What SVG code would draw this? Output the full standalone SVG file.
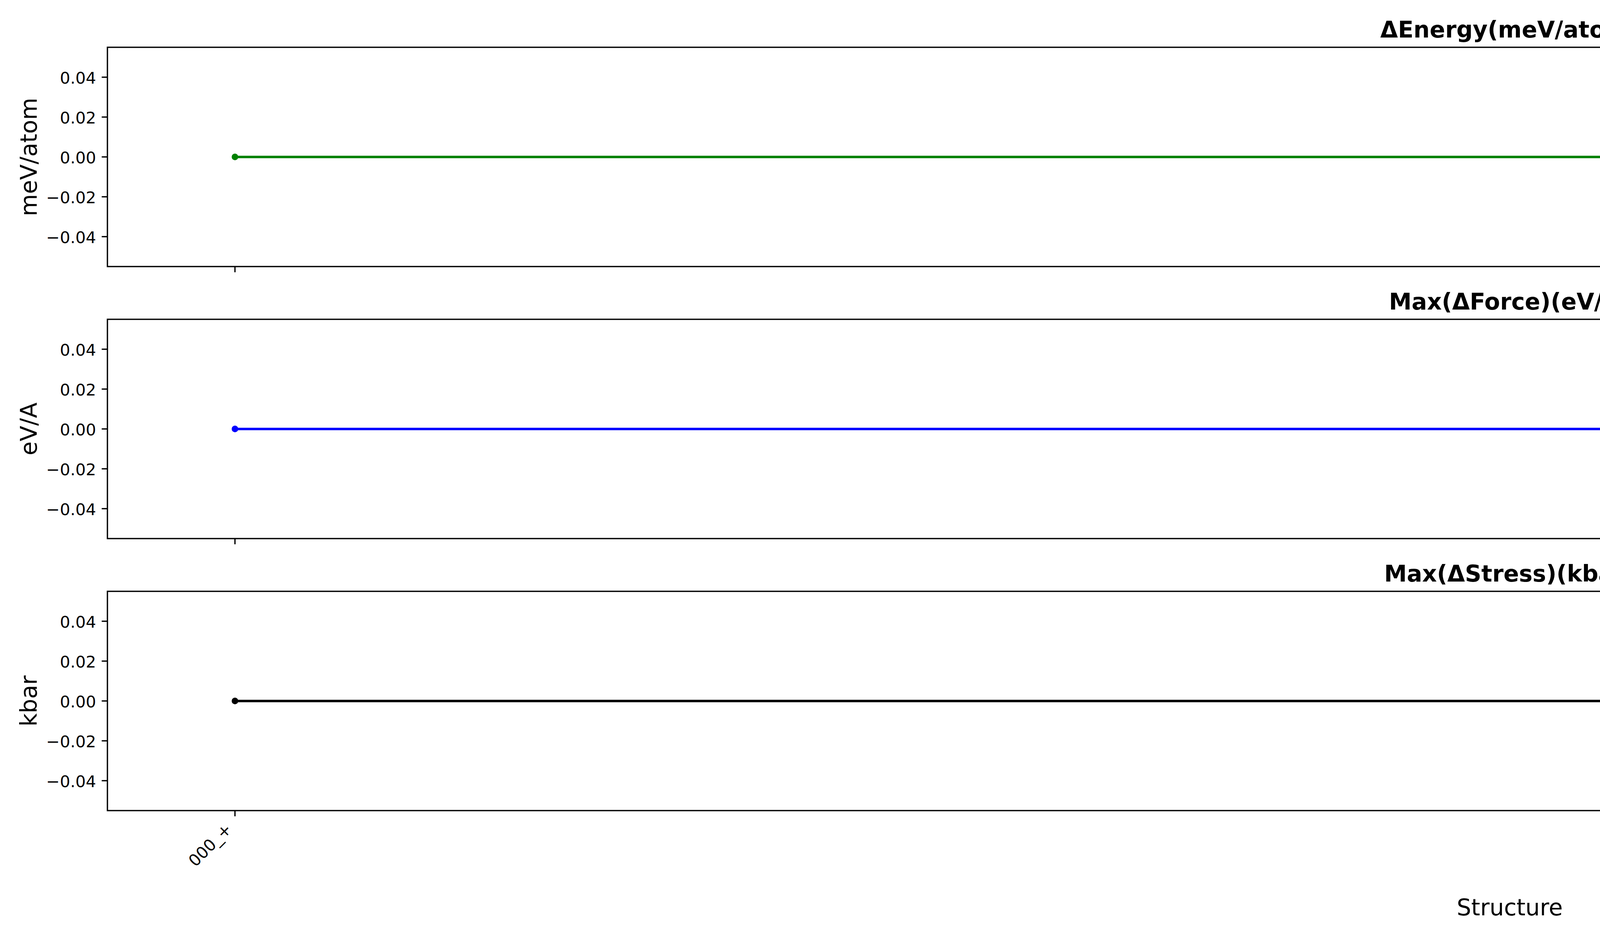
<svg xmlns="http://www.w3.org/2000/svg" width="7500" height="2400" viewBox="0 0 7500 2400">
<style>
text{font-family:"DejaVu Sans","Liberation Sans",sans-serif;fill:#000}
.tick{font-size:41.67px;text-anchor:end}
.title{font-size:58.33px;font-weight:bold;text-anchor:middle}
.lab{font-size:58.33px;text-anchor:middle}
.spine{fill:none;stroke:#000;stroke-width:3.33;stroke-linejoin:miter}
.tk{stroke:#000;stroke-width:3.33}
.ln{stroke-width:6.25;fill:none;stroke-linecap:square}
</style>
<rect x="0" y="0" width="7500" height="2400" fill="#fff"/>

<g id="axes-energy">
<text class="title" x="3865" y="96">ΔEnergy(meV/atom)</text>
<g class="tk">
<line x1="260.4" y1="197.5" x2="275" y2="197.5"/>
<line x1="260.4" y1="299.5" x2="275" y2="299.5"/>
<line x1="260.4" y1="401.5" x2="275" y2="401.5"/>
<line x1="260.4" y1="503.5" x2="275" y2="503.5"/>
<line x1="260.4" y1="605.5" x2="275" y2="605.5"/>
<line x1="601.5" y1="682" x2="601.5" y2="696.6"/>
<line x1="7128.5" y1="682" x2="7128.5" y2="696.6"/>
</g>
<text class="tick" x="246" y="213.5">0.04</text>
<text class="tick" x="246" y="315.5">0.02</text>
<text class="tick" x="246" y="417.5">0.00</text>
<text class="tick" x="246" y="519.5">−0.02</text>
<text class="tick" x="246" y="621.5">−0.04</text>
<text class="lab" transform="translate(94,401.5) rotate(-90)">meV/atom</text>
<polyline class="ln" stroke="#008000" points="601.5,401.5 7128.5,401.5"/>
<circle cx="601.5" cy="401.5" r="8.4" fill="#008000"/>
<circle cx="7128.5" cy="401.5" r="8.4" fill="#008000"/>
<rect class="spine" x="275" y="121" width="7180" height="561"/>
</g>

<g id="axes-force">
<text class="title" x="3865" y="792">Max(ΔForce)(eV/A)</text>
<g class="tk">
<line x1="260.4" y1="893.5" x2="275" y2="893.5"/>
<line x1="260.4" y1="995.5" x2="275" y2="995.5"/>
<line x1="260.4" y1="1097.5" x2="275" y2="1097.5"/>
<line x1="260.4" y1="1199.5" x2="275" y2="1199.5"/>
<line x1="260.4" y1="1301.5" x2="275" y2="1301.5"/>
<line x1="601.5" y1="1378" x2="601.5" y2="1392.6"/>
<line x1="7128.5" y1="1378" x2="7128.5" y2="1392.6"/>
</g>
<text class="tick" x="246" y="909.5">0.04</text>
<text class="tick" x="246" y="1011.5">0.02</text>
<text class="tick" x="246" y="1113.5">0.00</text>
<text class="tick" x="246" y="1215.5">−0.02</text>
<text class="tick" x="246" y="1317.5">−0.04</text>
<text class="lab" transform="translate(94,1097.5) rotate(-90)">eV/A</text>
<polyline class="ln" stroke="#0000ff" points="601.5,1097.5 7128.5,1097.5"/>
<circle cx="601.5" cy="1097.5" r="8.4" fill="#0000ff"/>
<circle cx="7128.5" cy="1097.5" r="8.4" fill="#0000ff"/>
<rect class="spine" x="275" y="817" width="7180" height="561"/>
</g>

<g id="axes-stress">
<text class="title" x="3865" y="1488">Max(ΔStress)(kbar)</text>
<g class="tk">
<line x1="260.4" y1="1589.5" x2="275" y2="1589.5"/>
<line x1="260.4" y1="1691.5" x2="275" y2="1691.5"/>
<line x1="260.4" y1="1793.5" x2="275" y2="1793.5"/>
<line x1="260.4" y1="1895.5" x2="275" y2="1895.5"/>
<line x1="260.4" y1="1997.5" x2="275" y2="1997.5"/>
<line x1="601.5" y1="2074" x2="601.5" y2="2088.6"/>
<line x1="7128.5" y1="2074" x2="7128.5" y2="2088.6"/>
</g>
<text class="tick" x="246" y="1605.5">0.04</text>
<text class="tick" x="246" y="1707.5">0.02</text>
<text class="tick" x="246" y="1809.5">0.00</text>
<text class="tick" x="246" y="1911.5">−0.02</text>
<text class="tick" x="246" y="2013.5">−0.04</text>
<text class="lab" transform="translate(94,1793.5) rotate(-90)">kbar</text>
<polyline class="ln" stroke="#000000" points="601.5,1793.5 7128.5,1793.5"/>
<circle cx="601.5" cy="1793.5" r="8.4" fill="#000"/>
<circle cx="7128.5" cy="1793.5" r="8.4" fill="#000"/>
<rect class="spine" x="275" y="1513" width="7180" height="561"/>
<text class="tick" transform="translate(596,2124) rotate(-45)">000_+</text>
<text class="tick" transform="translate(7123,2124) rotate(-45)">001_C_1+</text>
<text class="lab" x="3865" y="2342">Structure</text>
</g>
</svg>
